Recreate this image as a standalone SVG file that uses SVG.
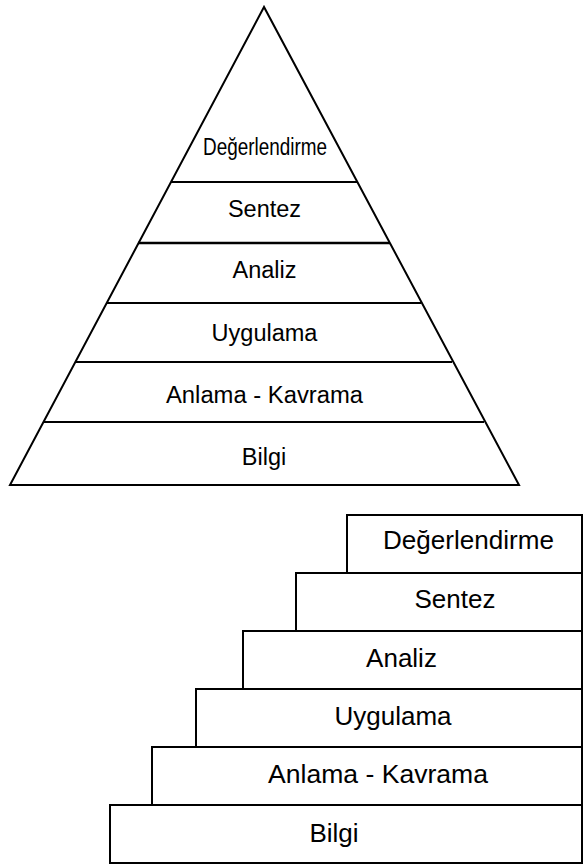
<svg xmlns="http://www.w3.org/2000/svg" width="584" height="865" viewBox="0 0 584 865">
<style>
.ln{stroke:#000;stroke-width:2;fill:none}
.bx{stroke:#000;stroke-width:2;fill:#fff}
.t{font-family:"Liberation Sans",Arial,sans-serif;fill:#000;text-anchor:middle}
.p{font-size:23.5px}
.s{font-size:26px}
</style>
<rect width="584" height="865" fill="#fff"/>
<g id="pyramid">
<polygon class="ln" points="264,7 10,485 519,485"/>
</g>
<g id="p-degerlendirme">
<line class="ln" x1="171" y1="182" x2="357" y2="182"/>
<text class="t p" x="265" y="155" textLength="124" lengthAdjust="spacingAndGlyphs">Değerlendirme</text>
</g>
<g id="p-sentez">
<line class="ln" x1="138" y1="243" x2="390" y2="243" style="stroke-width:2.5"/>
<text class="t p" x="264.5" y="217">Sentez</text>
</g>
<g id="p-analiz">
<line class="ln" x1="107" y1="303" x2="421" y2="303"/>
<text class="t p" x="264.5" y="278">Analiz</text>
</g>
<g id="p-uygulama">
<line class="ln" x1="76" y1="362" x2="452" y2="362"/>
<text class="t p" x="264.5" y="341">Uygulama</text>
</g>
<g id="p-anlama">
<line class="ln" x1="44" y1="422" x2="484" y2="422"/>
<text class="t p" x="264.5" y="403" textLength="197" lengthAdjust="spacingAndGlyphs">Anlama - Kavrama</text>
</g>
<g id="p-bilgi">
<text class="t p" x="264" y="465">Bilgi</text>
</g>
<g id="s-degerlendirme">
<rect class="bx" x="347" y="515" width="235" height="58"/>
<text class="t s" x="468.5" y="549" textLength="171" lengthAdjust="spacingAndGlyphs">Değerlendirme</text>
</g>
<g id="s-sentez">
<rect class="bx" x="296" y="573" width="286" height="58"/>
<text class="t s" x="455" y="608">Sentez</text>
</g>
<g id="s-analiz">
<rect class="bx" x="243" y="631" width="339" height="58"/>
<text class="t s" x="401.5" y="667">Analiz</text>
</g>
<g id="s-uygulama">
<rect class="bx" x="196" y="689" width="386" height="58"/>
<text class="t s" x="393" y="725">Uygulama</text>
</g>
<g id="s-anlama">
<rect class="bx" x="152" y="747" width="430" height="58"/>
<text class="t s" x="378" y="783" textLength="220" lengthAdjust="spacingAndGlyphs">Anlama - Kavrama</text>
</g>
<g id="s-bilgi">
<rect class="bx" x="110" y="805" width="472" height="58"/>
<text class="t s" x="334" y="842">Bilgi</text>
</g>
</svg>
